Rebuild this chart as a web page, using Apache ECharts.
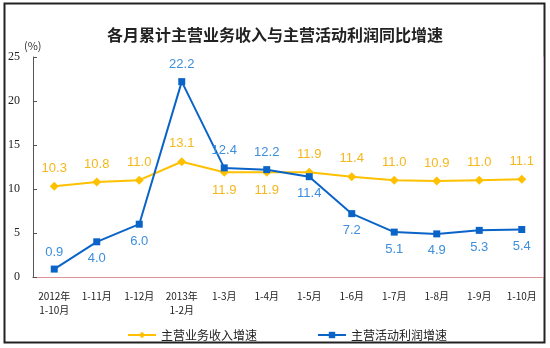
<!DOCTYPE html>
<html><head><meta charset="utf-8">
<script src="https://cdn.jsdelivr.net/npm/echarts@6/dist/echarts.min.js"></script>
<style>html,body{margin:0;padding:0;background:#fff}#c{width:550px;height:348px}</style>
</head><body><div id="c"></div>
<script>
const categories = ['2012年\n1-10月','1-11月','1-12月','2013年\n1-2月','1-3月','1-4月','1-5月','1-6月','1-7月','1-8月','1-9月','1-10月'];
const incomeGrowth = [10.3, 10.8, 11.0, 13.1, 11.9, 11.9, 11.9, 11.4, 11.0, 10.9, 11.0, 11.1];
const profitGrowth = [0.9, 4.0, 6.0, 22.2, 12.4, 12.2, 11.4, 7.2, 5.1, 4.9, 5.3, 5.4];
const incomeLabelPos = ['top','top','top','top','bottom','bottom','top','top','top','top','top','top'];
const profitLabelPos = ['top','bottom','bottom','top','top','top','bottom','bottom','bottom','bottom','bottom','bottom'];
const yTicks = [0, 5, 10, 15, 20, 25];

const chart = echarts.init(document.getElementById('c'), null, {renderer:'canvas'});
chart.setOption({
  animation:false,
  title:{text:'各月累计主营业务收入与主营活动利润同比增速', left:'center', top:22,
    textStyle:{fontFamily:'Noto Sans CJK SC', fontSize:16, fontWeight:'bold', color:'#222'}},
  graphic:[
    {type:'rect', shape:{x:4.5,y:3.5,width:540,height:339}, style:{fill:'none', stroke:'#222', lineWidth:2}, z:-1},
    {type:'text', left:24, top:40, style:{text:'(%)', fontFamily:'Noto Sans CJK SC', fontSize:11, fill:'#333'}}
  ],
  grid:{left:33, right:7, top:57, bottom:71},
  legend:{left:122, top:324, itemWidth:28, itemHeight:8, itemGap:60,
    textStyle:{fontFamily:'Noto Sans CJK SC', fontSize:12, color:'#222'},
    data:['主营业务收入增速','主营活动利润增速']},
  xAxis:[
    {type:'category', data:categories, boundaryGap:true,
      axisLine:{lineStyle:{color:'#333', width:1}},
      axisTick:{inside:true, length:4, lineStyle:{color:'#333'}},
      axisLabel:{fontFamily:'Noto Sans CJK SC', fontSize:10, color:'#222', margin:12, lineHeight:14, interval:0}},
    {type:'category', data:categories, position:'top',
      axisLine:{lineStyle:{color:'#E09098', width:1}},
      axisTick:{show:false}, axisLabel:{show:false}}
  ],
  yAxis:[
    {type:'value', min:0, max:25, interval:5,
      axisLine:{show:true, lineStyle:{color:'#555'}},
      axisTick:{show:true, inside:true, length:4, lineStyle:{color:'#555'}},
      splitLine:{show:false},
      axisLabel:{fontFamily:'Liberation Serif', fontSize:12, color:'#222', margin:13,
        formatter:v => yTicks.includes(v) ? String(v) : ''}},
    {type:'value', min:0, max:25, interval:5, position:'right',
      axisLine:{show:true, lineStyle:{color:'#C8A0CC'}},
      axisTick:{show:false}, axisLabel:{show:false}, splitLine:{show:false}}
  ],
  series:[
    {name:'主营业务收入增速', type:'line', symbol:'diamond', symbolSize:9,
      itemStyle:{color:'#FFC000'}, lineStyle:{color:'#FFC000', width:2},
      data:incomeGrowth.map((v,i)=>({value:v, label:{position:incomeLabelPos[i]}})),
      label:{show:true, formatter:p=>p.value.toFixed(1), fontFamily:'Liberation Sans', fontSize:13, color:'#F5B71A', distance:7}, z:3},
    {name:'主营活动利润增速', type:'line', symbol:'rect', symbolSize:7,
      itemStyle:{color:'#0A64C8'}, lineStyle:{color:'#0A64C8', width:2},
      data:profitGrowth.map((v,i)=>({value:v, label:{position:profitLabelPos[i]}})),
      label:{show:true, formatter:p=>p.value.toFixed(1), fontFamily:'Liberation Sans', fontSize:13, color:'#3D8EDB', distance:7}, z:4}
  ]
});
</script></body></html>
